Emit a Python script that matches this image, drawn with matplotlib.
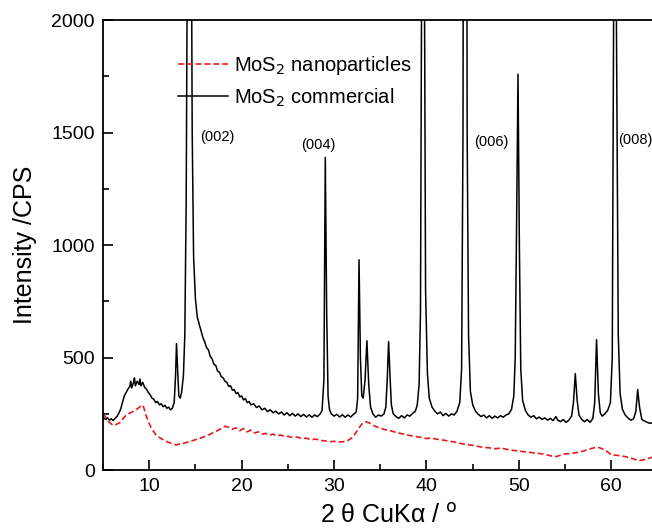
import matplotlib
matplotlib.use("Agg")
import matplotlib.pyplot as plt
from matplotlib.ticker import MultipleLocator

plt.rcParams['font.family'] = ['Liberation Sans', 'DejaVu Sans']

# MoS2 commercial (black solid): (2theta, intensity)
commercial = [
    (5.0, 240), (5.1, 230), (5.3, 225), (5.5, 232), (5.7, 222), (5.9, 228), (6.1, 220), (6.3, 230),
    (6.5, 238), (6.7, 252), (6.9, 270), (7.1, 300), (7.3, 330), (7.5, 345), (7.7, 360), (7.9, 372),
    (8.0, 395), (8.1, 365), (8.3, 390), (8.4, 410), (8.5, 375), (8.7, 395), (8.9, 380), (9.0, 405),
    (9.1, 375), (9.3, 390), (9.5, 368), (9.7, 360), (9.9, 345), (10.1, 335), (10.3, 320), (10.5, 315),
    (10.7, 300), (10.9, 305), (11.1, 290), (11.3, 295), (11.5, 282), (11.7, 288), (11.9, 275), (12.1, 280),
    (12.3, 268), (12.5, 275), (12.7, 300), (12.85, 420), (12.95, 562), (13.05, 470), (13.2, 330),
    (13.35, 320), (13.5, 345), (13.7, 420), (13.85, 600), (14.0, 1200), (14.2, 3000), (14.35, 6000),
    (14.5, 3000), (14.65, 1500), (14.8, 950), (15.0, 760), (15.2, 680), (15.4, 650), (15.6, 620),
    (15.8, 590), (16.0, 570), (16.2, 545), (16.4, 535), (16.6, 505), (16.8, 495), (17.0, 470),
    (17.2, 465), (17.4, 440), (17.6, 435), (17.8, 415), (18.0, 410), (18.2, 395), (18.4, 390),
    (18.6, 372), (18.8, 375), (19.0, 355), (19.2, 358), (19.4, 340), (19.6, 345), (19.8, 325),
    (20.0, 330), (20.2, 312), (20.4, 318), (20.6, 300), (20.8, 305), (21.0, 290), (21.3, 295),
    (21.6, 278), (21.9, 285), (22.2, 268), (22.5, 275), (22.8, 260), (23.1, 268), (23.4, 255),
    (23.7, 262), (24.0, 250), (24.3, 258), (24.6, 245), (24.9, 255), (25.2, 242), (25.5, 252),
    (25.8, 240), (26.1, 250), (26.4, 238), (26.7, 248), (27.0, 236), (27.3, 246), (27.6, 235),
    (27.9, 245), (28.2, 238), (28.5, 250), (28.7, 265), (28.9, 400), (29.05, 1390), (29.2, 700),
    (29.35, 330), (29.5, 270), (29.7, 250), (30.0, 240), (30.3, 248), (30.6, 236), (30.9, 246),
    (31.2, 235), (31.5, 245), (31.8, 236), (32.1, 248), (32.4, 258), (32.55, 320), (32.7, 935),
    (32.85, 500), (33.0, 330), (33.15, 320), (33.35, 400), (33.55, 575), (33.75, 380), (33.95, 280),
    (34.2, 250), (34.5, 235), (34.8, 245), (35.1, 240), (35.4, 250), (35.6, 280), (35.75, 400),
    (35.9, 571), (36.05, 420), (36.2, 290), (36.4, 250), (36.7, 238), (37.0, 230), (37.3, 242),
    (37.6, 232), (37.9, 245), (38.2, 240), (38.5, 252), (38.8, 262), (39.0, 290), (39.2, 380),
    (39.35, 700), (39.5, 2500), (39.6, 6000), (39.75, 2500), (39.9, 800), (40.1, 430), (40.3, 320),
    (40.6, 280), (40.9, 262), (41.2, 250), (41.5, 258), (41.8, 242), (42.1, 252), (42.4, 240),
    (42.7, 250), (43.0, 245), (43.3, 262), (43.6, 300), (43.8, 450), (43.95, 1500), (44.1, 6000),
    (44.25, 6000), (44.4, 1500), (44.55, 600), (44.75, 350), (45.0, 290), (45.3, 262), (45.6, 248),
    (45.9, 238), (46.2, 245), (46.5, 232), (46.8, 242), (47.1, 230), (47.4, 240), (47.7, 232),
    (48.0, 242), (48.3, 235), (48.6, 245), (48.9, 250), (49.2, 270), (49.45, 330), (49.6, 500),
    (49.75, 1100), (49.9, 1760), (50.05, 1000), (50.2, 450), (50.4, 310), (50.7, 265), (51.0, 245),
    (51.3, 235), (51.6, 242), (51.9, 228), (52.2, 236), (52.5, 225), (52.8, 232), (53.1, 222),
    (53.4, 230), (53.7, 220), (54.0, 238), (54.2, 222), (54.5, 215), (54.8, 225), (55.1, 212),
    (55.4, 222), (55.7, 240), (55.9, 300), (56.1, 429), (56.3, 310), (56.5, 245), (56.8, 225),
    (57.1, 215), (57.4, 225), (57.7, 212), (58.0, 230), (58.2, 300), (58.4, 580), (58.6, 340),
    (58.8, 255), (59.0, 240), (59.3, 250), (59.6, 265), (59.9, 300), (60.1, 500), (60.25, 2000),
    (60.4, 6000), (60.55, 2000), (60.75, 600), (60.95, 340), (61.2, 270), (61.5, 245), (61.8, 232),
    (62.1, 222), (62.4, 228), (62.65, 260), (62.85, 358), (63.05, 280), (63.3, 225), (63.6, 218),
    (63.9, 212), (64.2, 208), (64.5, 212),
]

# MoS2 nanoparticles (red dashed)
nano = [
    (5.0, 250), (5.3, 235), (5.6, 215), (5.9, 205), (6.2, 198), (6.5, 205), (6.8, 210), (7.1, 225),
    (7.4, 240), (7.7, 250), (8.0, 255), (8.3, 262), (8.6, 270), (8.9, 278), (9.2, 290), (9.4, 280),
    (9.6, 250), (9.9, 215), (10.2, 190), (10.5, 170), (10.8, 152), (11.1, 145), (11.4, 138),
    (11.7, 130), (12.0, 125), (12.3, 120), (12.6, 116), (12.9, 112), (13.2, 115), (13.5, 118),
    (13.8, 120), (14.1, 124), (14.4, 127), (14.7, 131), (15.0, 135), (15.4, 140), (15.8, 146),
    (16.2, 152), (16.6, 160), (17.0, 168), (17.4, 176), (17.8, 185), (18.2, 195), (18.6, 190),
    (19.0, 182), (19.4, 188), (19.8, 175), (20.2, 185), (20.6, 170), (21.0, 178), (21.4, 165),
    (21.8, 170), (22.2, 160), (22.6, 163), (23.0, 155), (23.4, 160), (23.8, 152), (24.2, 156),
    (24.6, 150), (25.0, 150), (25.5, 145), (26.0, 147), (26.5, 140), (27.0, 142), (27.5, 135),
    (28.0, 138), (28.5, 132), (29.0, 130), (29.5, 126), (30.0, 128), (30.5, 125), (31.0, 126),
    (31.5, 132), (32.0, 145), (32.5, 175), (33.0, 205), (33.4, 215), (33.8, 210), (34.2, 200),
    (34.6, 192), (35.0, 186), (35.5, 180), (36.0, 176), (36.5, 170), (37.0, 165), (37.5, 160),
    (38.0, 155), (38.5, 152), (39.0, 148), (39.5, 145), (40.0, 140), (40.5, 143), (41.0, 138),
    (41.5, 135), (42.0, 132), (42.5, 128), (43.0, 125), (43.5, 120), (44.0, 116), (44.5, 113),
    (45.0, 110), (45.5, 106), (46.0, 102), (46.5, 100), (47.0, 98), (47.5, 95), (48.0, 98),
    (48.5, 94), (49.0, 90), (49.5, 87), (50.0, 85), (50.5, 82), (51.0, 80), (51.5, 77), (52.0, 75),
    (52.5, 72), (53.0, 68), (53.5, 63), (54.0, 60), (54.5, 66), (55.0, 72), (55.5, 74), (56.0, 76),
    (56.5, 80), (57.0, 85), (57.5, 92), (58.0, 98), (58.5, 102), (59.0, 95), (59.5, 84), (60.0, 68),
    (60.5, 66), (61.0, 64), (61.5, 60), (62.0, 55), (62.5, 48), (63.0, 42), (63.5, 46), (64.0, 52),
    (64.5, 58),
]

peak_labels = ["(002)", "(004)", "(006)", "(008)"]
peak_label_x = [17.4, 28.3, 47.0, 62.6]
peak_label_y = [1482, 1447, 1460, 1469]

fig = plt.figure(figsize=(6.52, 5.30), dpi=100)
ax = fig.add_axes([0.158, 0.113, 0.842, 0.849])

cx = [p[0] for p in commercial]
cy = [p[1] for p in commercial]
nx = [p[0] for p in nano]
ny = [p[1] for p in nano]

ax.plot(nx, ny, color='#e8191c', lw=1.2, ls=(0, (3.5, 1.8)), label=r'MoS$_2$ nanoparticles')
ax.plot(cx, cy, color='black', lw=1.1, label=r'MoS$_2$ commercial')

for t, x, y in zip(peak_labels, peak_label_x, peak_label_y):
    ax.text(x, y, t, ha='center', va='center', fontsize=10.5)

ax.set_xlim(5, 64.4)
ax.set_ylim(0, 2000)
ax.xaxis.set_major_locator(MultipleLocator(10))
ax.xaxis.set_minor_locator(MultipleLocator(5))
ax.yaxis.set_major_locator(MultipleLocator(500))
ax.yaxis.set_minor_locator(MultipleLocator(250))
ax.tick_params(which='major', direction='in', length=7, width=1.2, labelsize=14, pad=6)
ax.tick_params(which='minor', direction='in', length=4, width=1.2)
ax.tick_params(top=False, right=False)
ax.spines['right'].set_visible(False)
for s in ['left', 'bottom', 'top']:
    ax.spines[s].set_linewidth(1.3)

ax.set_ylabel('Intensity /CPS', fontsize=18, labelpad=10)
fig.text(0.597, 0.005, r'2 θ CuKα / $^{\mathrm{o}}$', ha='center', va='bottom', fontsize=18)

leg = ax.legend(loc='upper left', bbox_to_anchor=(0.136, 0.924), frameon=False, fontsize=14.5,
                handlelength=2.5, handletextpad=0.3, labelspacing=0.45, borderpad=0,
                borderaxespad=0)

fig.savefig('out.png', dpi=100)
